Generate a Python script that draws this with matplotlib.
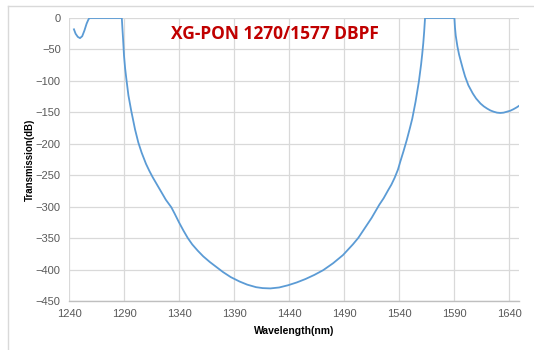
import matplotlib
matplotlib.use("Agg")
import matplotlib.pyplot as plt
from matplotlib.lines import Line2D

plt.rcParams["font.family"] = ["Liberation Sans", "DejaVu Sans"]

# wavelength (nm) and transmission (dB)
wavelength = [1244.5, 1246, 1248, 1250, 1252, 1254, 1256, 1257.5, 1258.5,
              1288, 1288.6, 1289.2, 1290, 1291, 1292, 1294, 1296.5, 1300, 1303,
              1306, 1310, 1313, 1316, 1319, 1322, 1325, 1328, 1333, 1336, 1340,
              1344, 1348, 1352, 1357, 1362, 1368, 1374, 1380, 1387, 1395,
              1402, 1410, 1416, 1423, 1431, 1439, 1447, 1455, 1463, 1471,
              1480, 1489, 1498, 1503, 1507, 1511, 1515, 1519, 1522, 1526,
              1530, 1533, 1536, 1539, 1541, 1544, 1547, 1550, 1552, 1555,
              1558, 1560, 1561, 1562, 1562.8, 1563.6,
              1590.3, 1590.8, 1591.5, 1593, 1594.5, 1596, 1598, 1600, 1603,
              1607, 1610, 1614, 1617, 1620, 1623, 1626, 1629, 1632, 1635,
              1638, 1641, 1644, 1647, 1650]
transmission = [-18, -25, -30, -32, -29, -20, -9, -3, 0,
                0, -18, -35, -60, -80, -95, -123, -147, -177, -198,
                -214, -232, -243, -253, -262, -271, -280, -289, -301, -311, -325,
                -338, -350, -360, -370, -379, -388, -396, -404, -412, -419,
                -424, -428, -429.5, -430, -428.5, -425, -420.5, -415, -408.5, -401,
                -390, -377, -360, -349.5, -339, -328.5, -318, -306, -297, -286.5,
                -274, -265, -254, -241, -229, -212, -194, -174, -160, -133,
                -101, -74, -58, -40, -22, 0,
                0, -15, -28, -45, -58, -68, -81, -93, -107,
                -120, -128, -136, -140.5, -144, -147, -149, -150.5, -151, -150.5,
                -149, -147.5, -145, -142, -138.5]

x_ticks = [1240, 1290, 1340, 1390, 1440, 1490, 1540, 1590, 1640]
y_ticks = [0, -50, -100, -150, -200, -250, -300, -350, -400, -450]

fig = plt.figure(figsize=(5.34, 3.5), dpi=100)
ax = fig.add_axes([69/534, 1 - 301/350, 450/534, 283/350])

ax.plot(wavelength, transmission, color="#5B9BD5", lw=1.3, zorder=3)

ax.set_xlim(1240, 1649)
ax.set_ylim(-450, 0)
ax.set_xticks(x_ticks)
ax.set_yticks(y_ticks)
ax.grid(True, color="#D9D9D9", lw=0.9)
ax.set_axisbelow(True)
for s in ["top", "right", "left"]:
    ax.spines[s].set_visible(False)
ax.spines["bottom"].set_color("#BFBFBF")
ax.spines["bottom"].set_linewidth(1.0)
ax.tick_params(length=0, labelsize=8, labelcolor="#595959", pad=6)

ax.set_xlabel("Wavelength(nm)", fontsize=7.5, fontweight="bold", color="#000000", labelpad=5)
ax.set_ylabel("Transmission(dB)", fontsize=7, fontweight="bold", color="#000000")
ax.yaxis.set_label_coords(-0.075, 0.5)

ax.text(1427, -26, "XG-PON 1270/1577 DBPF", fontsize=12.5, fontweight="bold",
        color="#C00000", ha="center", va="center", family="Open Sans")

# light frame around the chart area
fig.add_artist(Line2D([8/534, 1], [1 - 6/350, 1 - 6/350], color="#D9D9D9", lw=1))
fig.add_artist(Line2D([8/534, 8/534], [0, 1 - 6/350], color="#D9D9D9", lw=1))

fig.savefig("out.png", dpi=100)
